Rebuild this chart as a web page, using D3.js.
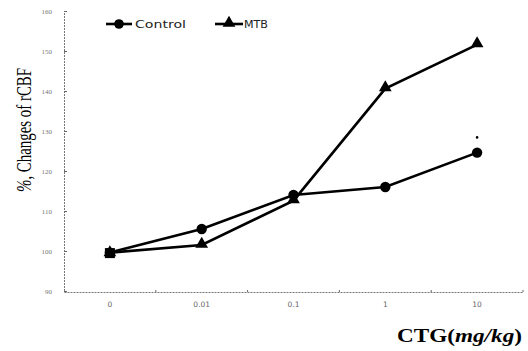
<!DOCTYPE html>
<html><head><meta charset="utf-8">
<script src="https://cdn.jsdelivr.net/npm/d3@7/dist/d3.min.js"></script>
<style>body{margin:0;background:#fff}svg{display:block}</style>
</head><body>
<svg id="c" width="528" height="351"></svg>
<script>
const categories = ["0", "0.01", "0.1", "1", "10"];
const controlValues = [99.6, 105.5, 114, 116, 124.6];
const mtbValues = [99.6, 101.5, 112.6, 140.6, 151.6];
const yTicks = [90, 100, 110, 120, 130, 140, 150, 160];
const seriesNames = ["Control", "MTB"];

const svg = d3.select("#c");
const x = d3.scaleBand().domain(categories).range([64, 523]).padding(0);
const y = d3.scaleLinear().domain([90, 160]).range([291, 11]);
const cx = d => x(d) + x.bandwidth() / 2;

// axes
const yAxis = d3.axisRight(y).tickValues(yTicks).tickSize(3).tickFormat(d3.format("d"));
const gy = svg.append("g").attr("transform", "translate(64,0)").call(yAxis);
gy.select(".domain").attr("stroke", "#777").attr("stroke-width", 1).attr("stroke-dasharray", "2,1");
gy.selectAll(".tick line").attr("stroke", "#666");
gy.selectAll(".tick text").attr("x", -12).attr("text-anchor", "end")
  .attr("font-family", "Liberation Serif").attr("font-size", 7).attr("fill", "#777");

const xAxis = d3.axisBottom(x).tickSize(0).tickPadding(10);
const gx = svg.append("g").attr("transform", "translate(0,292)").call(xAxis);
gx.select(".domain").attr("stroke", "#777").attr("stroke-width", 1).attr("stroke-dasharray", "2,1");
gx.selectAll(".tick text").attr("font-family", "DejaVu Sans").attr("font-size", 7.5).attr("fill", "#666");
const bounds = categories.slice(1).map(c => x(c)).concat([x.range()[1]]);
gx.selectAll(".btick").data(bounds).enter().append("line")
  .attr("x1", d => d).attr("x2", d => d).attr("y1", 0).attr("y2", -2).attr("stroke", "#666");

// lines
const line = d3.line().x((d, i) => cx(categories[i])).y(d => y(d));
svg.append("path").datum(controlValues).attr("d", line).attr("fill", "none").attr("stroke", "#000").attr("stroke-width", 2.6);
svg.append("path").datum(mtbValues).attr("d", line).attr("fill", "none").attr("stroke", "#000").attr("stroke-width", 2.6);

const tri = d3.symbol().type(d3.symbolTriangle).size(70);
svg.selectAll(".mtb").data(mtbValues).enter().append("path")
  .attr("d", tri).attr("transform", (d, i) => `translate(${cx(categories[i])},${y(d) - (i === 0 ? 0 : 1)})`).attr("fill", "#000");
svg.selectAll(".ctl").data(controlValues).enter().append("circle")
  .attr("cx", (d, i) => cx(categories[i])).attr("cy", d => y(d)).attr("r", 5.2).attr("fill", "#000");
svg.append("rect").attr("x", cx(categories[0]) - 5).attr("y", y(controlValues[0]) - 4.5).attr("width", 10).attr("height", 10).attr("fill", "#000");

// significance dot
svg.append("circle").attr("cx", cx(categories[4])).attr("cy", y(controlValues[4] + 3.8)).attr("r", 1.3).attr("fill", "#000");

// legend
const leg = [{ name: seriesNames[0], x1: 106, x2: 132, t: "circle" }, { name: seriesNames[1], x1: 215, x2: 243, t: "tri" }];
leg.forEach(l => {
  svg.append("line").attr("x1", l.x1).attr("x2", l.x2).attr("y1", 24).attr("y2", 24).attr("stroke", "#000").attr("stroke-width", 2.6);
  const m = (l.x1 + l.x2) / 2;
  if (l.t === "circle") svg.append("circle").attr("cx", m).attr("cy", 24).attr("r", 4.8).attr("fill", "#000");
  else svg.append("path").attr("d", tri).attr("transform", `translate(${m},23)`).attr("fill", "#000");
});
svg.append("text").attr("x", 135).attr("y", 28).attr("font-family", "DejaVu Sans").attr("font-size", 11)
  .attr("textLength", 51).attr("lengthAdjust", "spacingAndGlyphs").attr("fill", "#222").text(seriesNames[0]);
svg.append("text").attr("x", 244).attr("y", 28).attr("font-family", "DejaVu Sans").attr("font-size", 11)
  .attr("textLength", 24).attr("lengthAdjust", "spacingAndGlyphs").attr("fill", "#222").text(seriesNames[1]);

// axis titles
svg.append("text").attr("transform", "translate(31,130) rotate(-90)").attr("text-anchor", "middle")
  .attr("font-family", "Liberation Serif").attr("font-size", 21).attr("fill", "#000")
  .attr("textLength", 124).attr("lengthAdjust", "spacingAndGlyphs")
  .html('<tspan font-style="italic">%</tspan>, Changes of rCBF');
const xt = svg.append("text").attr("x", 397).attr("y", 342).attr("font-family", "Liberation Serif")
  .attr("font-size", 18).attr("font-weight", "bold").attr("fill", "#000")
  .attr("textLength", 125).attr("lengthAdjust", "spacingAndGlyphs");
xt.append("tspan").text("CTG(");
xt.append("tspan").attr("font-style", "italic").text("mg/kg");
xt.append("tspan").text(")");
</script>
</body></html>
